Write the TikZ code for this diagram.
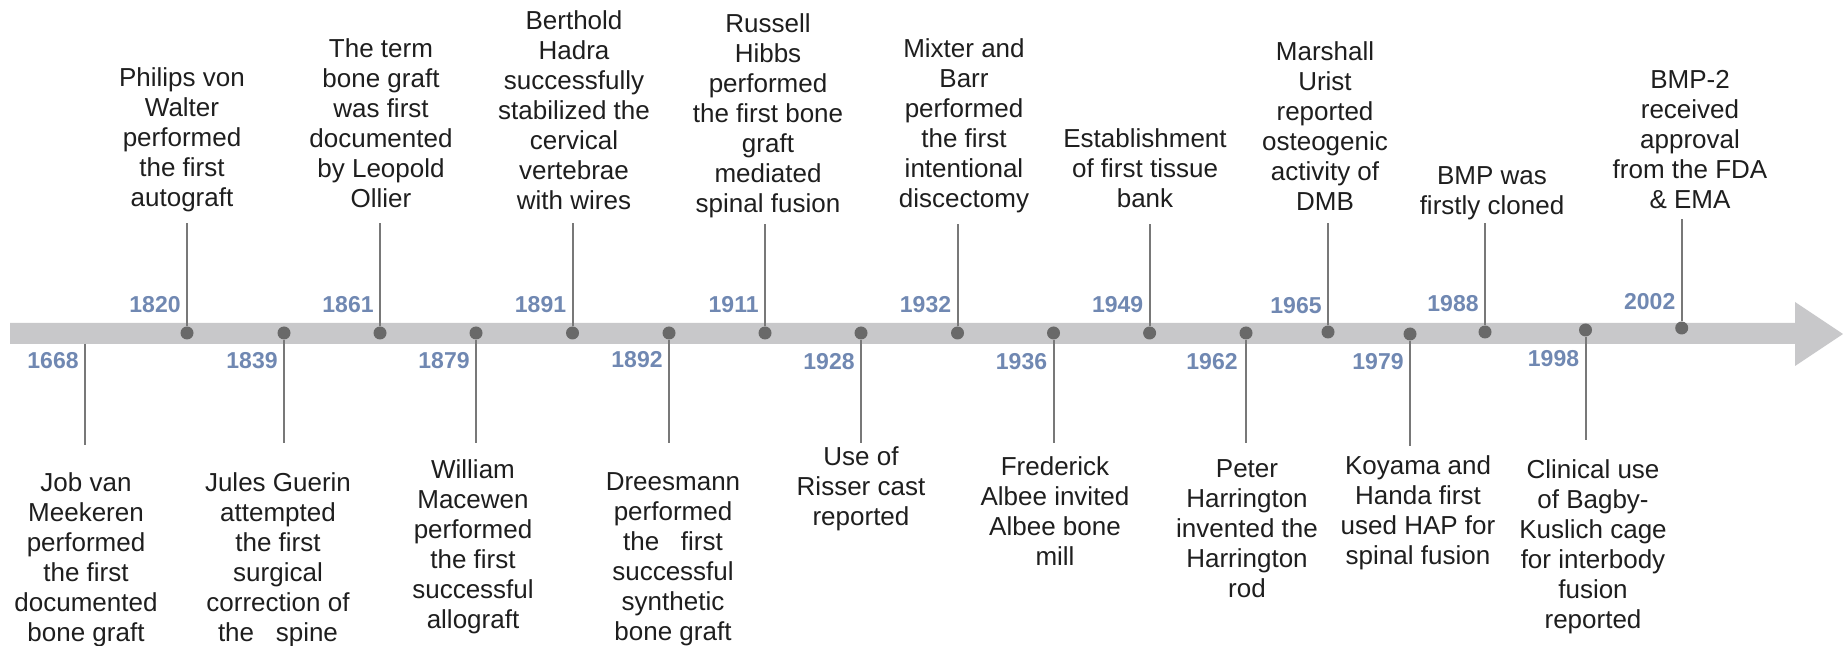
\documentclass[tikz,border=0pt]{standalone}
\usepackage{fontspec}
\setmainfont{Liberation Sans}
\definecolor{barc}{RGB}{200,200,202}
\definecolor{dotc}{RGB}{105,105,105}
\definecolor{stemc}{RGB}{120,120,120}
\definecolor{yearc}{RGB}{112,136,178}
\definecolor{txtc}{RGB}{30,30,30}
\begin{document}
\begin{tikzpicture}[x=0.5pt,y=-0.5pt,
  evt/.style={align=center, inner sep=0pt, text=txtc,
    font=\fontsize{13}{15}\selectfont,
    execute at begin node=\strut, execute at end node=\strut},
  evtup/.style={evt, anchor=south},
  evtdn/.style={evt, anchor=north},
  yr/.style={font=\fontsize{11.5}{13}\selectfont\bfseries, text=yearc, inner sep=0pt, anchor=base east},
  dot/.style={circle, fill=dotc, inner sep=0pt, minimum size=6.5pt},
  stem/.style={draw=stemc, line width=1pt}]
\useasboundingbox (0,0) rectangle (1843,646);
% timeline arrow
\fill[barc] (10,323) -- (1795,323) -- (1795,302) -- (1843,334) -- (1795,366) -- (1795,344) -- (10,344) -- cycle;

% ---------- dots ----------
\node[dot] (d1820) at (187,333) {};
\node[dot] (d1861) at (380,333) {};
\node[dot] (d1891) at (572.5,333) {};
\node[dot] (d1911) at (765,333) {};
\node[dot] (d1932) at (957.5,333) {};
\node[dot] (d1949) at (1149.6,333) {};
\node[dot] (d1965) at (1328,332) {};
\node[dot] (d1988) at (1485,332) {};
\node[dot] (d2002) at (1681.7,328) {};
\node[dot] (d1839) at (284,333) {};
\node[dot] (d1879) at (476,333) {};
\node[dot] (d1892) at (669,333) {};
\node[dot] (d1928) at (861,333) {};
\node[dot] (d1936) at (1053.5,333) {};
\node[dot] (d1962) at (1246,333) {};
\node[dot] (d1979) at (1410,334) {};
\node[dot] (d1998) at (1585.5,330) {};
\coordinate (d1668) at (85,344);

% ---------- stem ends ----------
\coordinate (s1820) at (187,223);
\coordinate (s1861) at (380,223);
\coordinate (s1891) at (572.5,223);
\coordinate (s1911) at (765,224);
\coordinate (s1932) at (957.5,224);
\coordinate (s1949) at (1149.6,224);
\coordinate (s1965) at (1328,223);
\coordinate (s1988) at (1485,223);
\coordinate (s2002) at (1681.7,219);
\coordinate (s1668) at (85,445);
\coordinate (s1839) at (284,443);
\coordinate (s1879) at (476,443);
\coordinate (s1892) at (669,443);
\coordinate (s1928) at (861,443);
\coordinate (s1936) at (1053.5,443);
\coordinate (s1962) at (1246,443);
\coordinate (s1979) at (1410,446);
\coordinate (s1998) at (1585.5,440);

% ---------- stems ----------
\foreach \y in {1820,1861,1891,1911,1932,1949,1965,1988,2002}
  \draw[stem] (d\y.north) -- (s\y);
\foreach \y in {1839,1879,1892,1928,1936,1962,1979,1998}
  \draw[stem] (d\y.south) -- (s\y);
\draw[stem] (d1668) -- (s1668);

% ---------- years ----------
\node[yr] (y1820) at (181,313) {1820};
\node[yr] (y1861) at (374,313) {1861};
\node[yr] (y1891) at (566.5,313) {1891};
\node[yr] (y1911) at (759,313) {1911};
\node[yr] (y1932) at (951.5,313) {1932};
\node[yr] (y1949) at (1143.6,313) {1949};
\node[yr] (y1965) at (1322,314) {1965};
\node[yr] (y1988) at (1479,312) {1988};
\node[yr] (y2002) at (1675.7,310) {2002};
\node[yr] (y1668) at (79,369) {1668};
\node[yr] (y1839) at (278,369) {1839};
\node[yr] (y1879) at (470,369) {1879};
\node[yr] (y1892) at (663,368) {1892};
\node[yr] (y1928) at (855,370) {1928};
\node[yr] (y1936) at (1047.5,370) {1936};
\node[yr] (y1962) at (1238,370) {1962};
\node[yr] (y1979) at (1404,370) {1979};
\node[yr] (y1998) at (1579.5,367) {1998};

% ---------- events above ----------
\node[evtup] (e1820) at (182,216) {Philips von\\Walter\\performed\\the first\\autograft};
\node[evtup] (e1861) at (381,217) {The term\\bone graft\\was first\\documented\\by Leopold\\Ollier};
\node[evtup] (e1891) at (574,219) {Berthold\\Hadra\\successfully\\stabilized the\\cervical\\vertebrae\\with wires};
\node[evtup] (e1911) at (768,222) {Russell\\Hibbs\\performed\\the first bone\\graft\\mediated\\spinal fusion};
\node[evtup] (e1932) at (964,217) {Mixter and\\Barr\\performed\\the first\\intentional\\discectomy};
\node[evtup] (e1949) at (1145,217) {Establishment\\of first tissue\\bank};
\node[evtup] (e1965) at (1325,220) {Marshall\\Urist\\reported\\osteogenic\\activity of\\DMB};
\node[evtup] (e1988) at (1492,224) {BMP was\\firstly cloned};
\node[evtup] (e2002) at (1690,218) {BMP-2\\received\\approval\\from the FDA\\\& EMA};

% ---------- events below ----------
\node[evtdn] (e1668) at (86,472) {Job van\\Meekeren\\performed\\the first\\documented\\bone graft};
\node[evtdn] (e1839) at (278,472) {Jules Guerin\\attempted\\the first\\surgical\\correction of\\the~~~spine};
\node[evtdn] (e1879) at (473,459) {William\\Macewen\\performed\\the first\\successful\\allograft};
\node[evtdn] (e1892) at (673,472) {Dreesmann\\performed\\the~~~first\\successful\\synthetic\\bone graft};
\node[evtdn] (e1928) at (861,446) {Use of\\Risser cast\\reported};
\node[evtdn] (e1936) at (1055,456) {Frederick\\Albee invited\\Albee bone\\mill};
\node[evtdn] (e1962) at (1247,459) {Peter\\Harrington\\invented the\\Harrington\\rod};
\node[evtdn] (e1979) at (1418,455) {Koyama and\\Handa first\\used HAP for\\spinal fusion};
\node[evtdn] (e1998) at (1593,459) {Clinical use\\of Bagby-\\Kuslich cage\\for interbody\\fusion\\reported};
\end{tikzpicture}
\end{document}
